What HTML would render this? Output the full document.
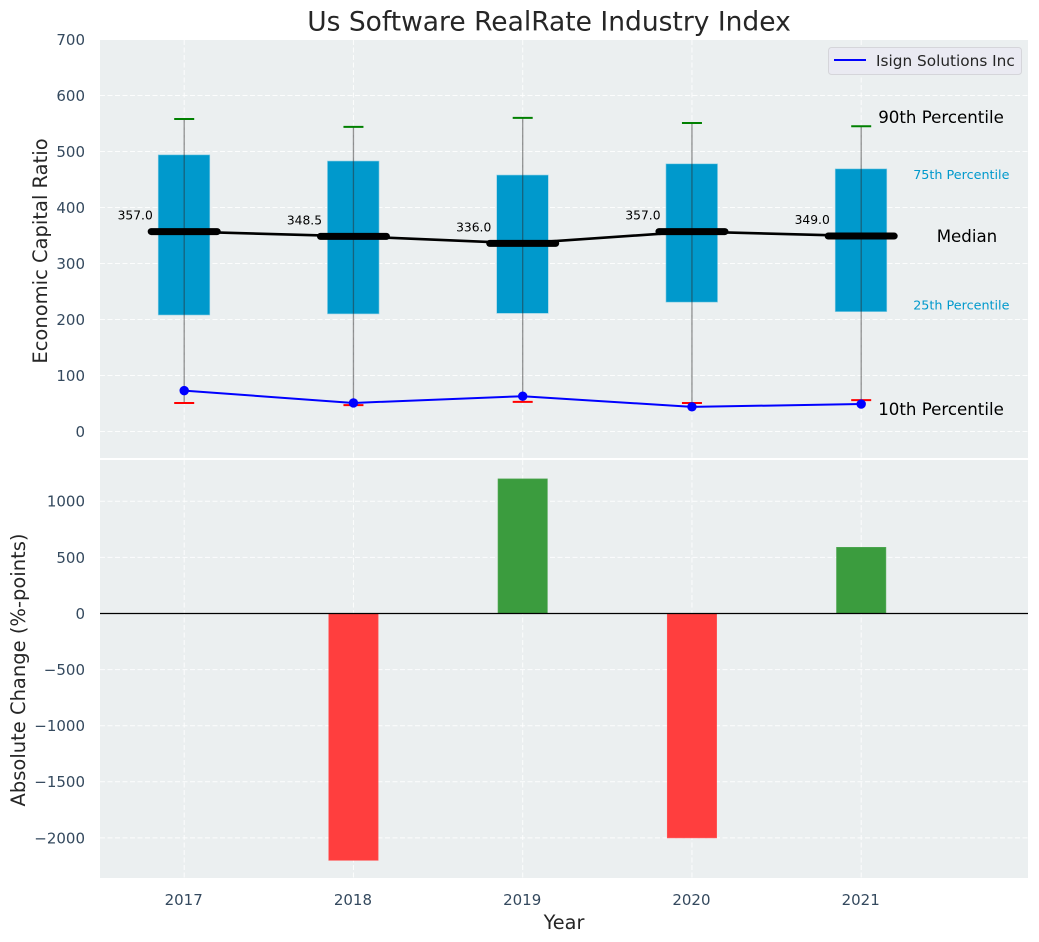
<!DOCTYPE html>
<html>
<head>
<meta charset="utf-8">
<title>Us Software RealRate Industry Index</title>
<style>
html,body{margin:0;padding:0;background:#fff;width:1039px;height:942px;overflow:hidden}
svg{display:block;font-family:"DejaVu Sans","Liberation Sans",sans-serif}
</style>
</head>
<body>
<svg id="chart" xmlns="http://www.w3.org/2000/svg" width="1039" height="942" viewBox="0 0 1039 942"></svg>
<script>
const years = [2017, 2018, 2019, 2020, 2021];
const p90 = [558, 544, 560, 551, 545];
const p75 = [494, 483, 458, 478, 469];
const medians = [357.0, 348.5, 336.0, 357.0, 349.0];
const p25 = [208, 210, 211, 231, 214];
const p10 = [51, 47, 53, 51, 56];
const company = [73, 51, 63, 44, 49];
const changes = [0, -2200, 1200, -2000, 590];
const topTicks = [0, 100, 200, 300, 400, 500, 600, 700];
const bottomTicks = [-2000, -1500, -1000, -500, 0, 500, 1000];
const medianLabels = ['357.0', '348.5', '336.0', '357.0', '349.0'];

const svg = document.getElementById('chart');
const NS = 'http://www.w3.org/2000/svg';
const L = 100, R = 1028, T1 = 40, B1 = 458, T2 = 460, B2 = 878;
const xS = v => 184.2 + (v - 2017) * 169.25;
const yTop = v => 431.5 - v * 0.56;
const yBot = v => 613.5 - v * 0.1122;

function mk(tag, attrs, name, interact, text) {
  const el = document.createElementNS(NS, tag);
  for (const k in attrs) el.setAttribute(k, attrs[k]);
  
  
  if (text !== undefined) el.textContent = text;
  svg.appendChild(el);
  return el;
}
const line = (x1, y1, x2, y2, stroke, sw, name, extra) =>
  mk('line', Object.assign({x1, y1, x2, y2, stroke, 'stroke-width': sw}, extra || {}), name, false);
const fmt = v => String(v).replace('-', '\u2212');
const GRID = {'stroke-dasharray': '5 2.5', 'stroke-opacity': '0.85'};

/* panels */
mk('rect', {x: L, y: T1, width: R - L, height: B1 - T1, fill: '#ebeff0'}, 'top-plot-area', false);
mk('rect', {x: L, y: T2, width: R - L, height: B2 - T2, fill: '#ebeff0'}, 'bottom-plot-area', false);

/* grid */
topTicks.forEach(t => line(L, yTop(t), R, yTop(t), '#fff', 1, 'top-grid-line-y', GRID));
bottomTicks.forEach(t => line(L, yBot(t), R, yBot(t), '#fff', 1, 'bottom-grid-line-y', GRID));
years.forEach(y => {
  line(xS(y), T1, xS(y), B1, '#fff', 1, 'top-grid-line-x', GRID);
  line(xS(y), T2, xS(y), B2, '#fff', 1, 'bottom-grid-line-x', GRID);
});

/* boxes */
years.forEach((y, i) => {
  mk('rect', {x: xS(y) - 26, y: yTop(p75[i]), width: 51.6, height: yTop(p25[i]) - yTop(p75[i]), fill: '#0099cc', stroke: '#8fd0e4', 'stroke-width': 0.6}, 'box-' + y, false);
});

/* median connecting line */
mk('polyline', {points: years.map((y, i) => xS(y) + ',' + yTop(medians[i])).join(' '), fill: 'none', stroke: '#000', 'stroke-width': 2.6}, 'median-line', false);

/* whiskers and caps */
years.forEach((y, i) => {
  line(xS(y), yTop(p90[i]), xS(y), yTop(p10[i]), '#2b2b2b', 1.3, 'whisker-' + y, {'stroke-opacity': '0.5'});
  line(xS(y) - 10, yTop(p90[i]), xS(y) + 10, yTop(p90[i]), '#008000', 2, 'cap-p90-' + y);
  line(xS(y) - 10, yTop(p10[i]), xS(y) + 10, yTop(p10[i]), '#ff0000', 2, 'cap-p10-' + y);
});

/* medians */
years.forEach((y, i) => {
  line(xS(y) - 33, yTop(medians[i]), xS(y) + 33, yTop(medians[i]), '#000', 7, 'median-bar-' + y, {'stroke-linecap': 'round'});
  mk('text', {x: xS(y) - 49, y: yTop(medians[i]) - 12, 'text-anchor': 'middle', 'font-size': 12.3, fill: '#000'}, 'median-label-' + y, false, medianLabels[i]);
});

/* company series */
mk('polyline', {points: years.map((y, i) => xS(y) + ',' + yTop(company[i])).join(' '), fill: 'none', stroke: '#0000ff', 'stroke-width': 2}, 'company-line', false);
years.forEach((y, i) => {
  mk('circle', {cx: xS(y), cy: yTop(company[i]), r: 4.7, fill: '#0000ff'}, 'company-point-' + y, false);
});

/* annotations */
const last = years.length - 1;
const ax = xS(years[last]);
mk('text', {x: ax + 17, y: yTop(p90[last]) - 3.5, 'font-size': 16.65, fill: '#000'}, 'label-90th-percentile', false, '90th Percentile');
mk('text', {x: ax + 52, y: yTop(p75[last]) + 10, 'font-size': 12.75, fill: '#0099cc'}, 'label-75th-percentile', false, '75th Percentile');
mk('text', {x: ax + 75.5, y: yTop(medians[last]) + 6, 'font-size': 16.65, fill: '#000'}, 'label-median', false, 'Median');
mk('text', {x: ax + 52, y: yTop(p25[last]) - 2, 'font-size': 12.75, fill: '#0099cc'}, 'label-25th-percentile', false, '25th Percentile');
mk('text', {x: ax + 17, y: yTop(p10[last]) + 15, 'font-size': 16.65, fill: '#000'}, 'label-10th-percentile', false, '10th Percentile');

/* bottom bars */
years.forEach((y, i) => {
  const v = changes[i];
  if (v === 0) return;
  const a = yBot(Math.max(v, 0)), b = yBot(Math.min(v, 0));
  mk('rect', {x: xS(y) - 24.7, y: a, width: 49.4, height: b - a, fill: v > 0 ? '#3b9c3e' : '#ff3e3e', stroke: v > 0 ? '#55aa58' : '#ff5a5a', 'stroke-width': 0.6}, 'change-bar-' + y, false);
});
line(L, yBot(0), R, yBot(0), '#000', 1.3, 'zero-line');

/* tick labels */
const TICK = '#34495e';
topTicks.forEach(t => mk('text', {x: 85, y: yTop(t) + 5.4, 'text-anchor': 'end', 'font-size': 15, fill: TICK}, 'top-y-tick-label', false, fmt(t)));
bottomTicks.forEach(t => mk('text', {x: 85, y: yBot(t) + 5.4, 'text-anchor': 'end', 'font-size': 15, fill: TICK}, 'bottom-y-tick-label', false, fmt(t)));
years.forEach(y => mk('text', {x: xS(y) - 0.5, y: 905, 'text-anchor': 'middle', 'font-size': 15, fill: TICK}, 'x-tick-label', false, String(y)));

/* titles */
mk('text', {x: 549, y: 30.5, 'text-anchor': 'middle', 'font-size': 26.5, fill: '#262626'}, 'chart-title', false, 'Us Software RealRate Industry Index');
mk('text', {x: 564, y: 929, 'text-anchor': 'middle', 'font-size': 19.3, fill: '#262626'}, 'x-axis-title', false, 'Year');
mk('text', {x: 47, y: 251, 'text-anchor': 'middle', 'font-size': 19.5, fill: '#262626', transform: 'rotate(-90 47 251)'}, 'top-y-axis-title', false, 'Economic Capital Ratio');
mk('text', {x: 25, y: 670, 'text-anchor': 'middle', 'font-size': 19.5, fill: '#262626', transform: 'rotate(-90 25 670)'}, 'bottom-y-axis-title', false, 'Absolute Change (%-points)');

/* legend */
mk('rect', {x: 828.5, y: 47.5, width: 193, height: 27, rx: 3, fill: '#eaeaf2', stroke: '#d5d5da', 'stroke-width': 1}, 'legend-box', false);
line(834, 60, 866, 60, '#0000ff', 2, 'legend-line-isign');
mk('text', {x: 876, y: 66, 'font-size': 15.3, fill: '#262626'}, 'legend-label-isign', false, 'Isign Solutions Inc');
</script>
</body>
</html>
